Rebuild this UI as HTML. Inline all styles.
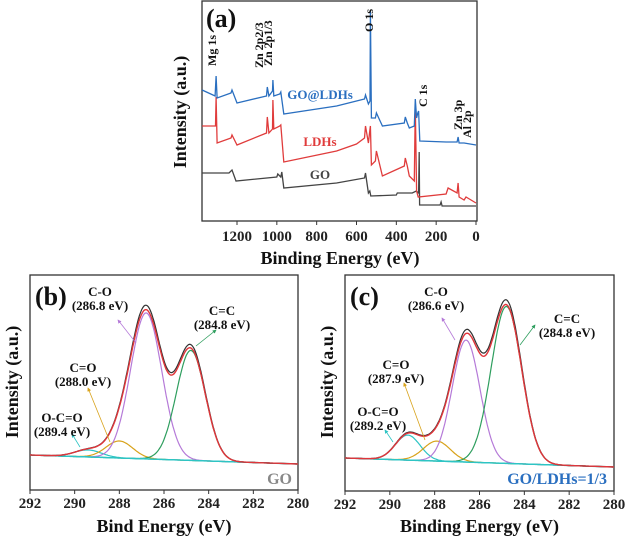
<!DOCTYPE html>
<html><head><meta charset="utf-8"><style>
body{margin:0;background:#fff}
svg{display:block;font-family:"Liberation Serif",serif;font-weight:bold}
</style></head><body>
<svg id="fig" width="625" height="540" viewBox="0 0 625 540">
<defs>
<marker id="ah" viewBox="0 0 6 6" refX="5" refY="3" markerWidth="5" markerHeight="5" orient="auto"><path d="M0,0L6,3L0,6z" fill="context-stroke"/></marker>
</defs>
<g id="pa"></g>
<g id="pb"></g>
<g id="pc"></g>
</svg>
<script>
// Survey spectra data (energy eV, relative intensity)
const goE=[1375,1240,1225,1205,1000,995,980,975,965,700,560,555,540,533,528,400,395,320,300,288,285,283,280,180,175,170,0];
const goI=[48,48,51,40,44,47,44,49,33,38,43,48,28,30,25,26,28,28,30,28,69,16,16,16,19,15,15];
const ldhE=[1375,1308,1305,1300,1230,1225,1200,1052,1048,1040,1022,1020,1015,985,980,965,700,600,560,555,540,532,530,525,505,500,470,360,355,345,335,310,305,298,290,150,140,95,90,85,60,50,0];
const ldhI=[95,95,124,78,83,86,76,88,104,88,92,121,92,95,96,59,70,77,83,95,78,92,95,56,60,70,45,55,63,55,45,40,115,30,24,27,33,28,38,24,21,24,18];
const blE=[1375,1310,1305,1300,1230,1225,1200,1052,1048,1040,1022,1020,1015,985,980,965,700,600,560,555,540,532,530,525,505,500,470,360,355,345,335,310,305,298,292,288,282,150,95,90,85,60,0];
const blI=[131,125,145,123,128,131,118,125,134,125,130,141,125,127,129,107,115,120,122,126,117,120,211,103,103,108,95,98,104,98,93,95,122,103,108,110,80,79,79,84,78,78,76];
const surveyTicks=[1200,1000,800,600,400,200,0];
// Peak fits (centers, heights, sigmas)
const bCenters=[289.4,288.0,286.8,284.8];
const bHeights=[7,17,146,110];
const bSig=[0.6,0.6,0.7,0.65];
const cCenters=[289.2,287.9,286.6,284.8];
const cHeights=[25,20,122,157];
const cSig=[0.55,0.6,0.62,0.68];
const hrTicks=[292,290,288,286,284,282,280];
const compColors=['#2ec4c4','#d8a21a','#b57ad8','#2e9e5e'];

const NS='http://www.w3.org/2000/svg';
function mk(parent,tag,attrs,txt){const e=document.createElementNS(NS,tag);for(const k in attrs)e.setAttribute(k,attrs[k]);if(txt!==undefined)e.textContent=txt;parent.appendChild(e);return e;}

/* ---------- panel a ---------- */
const A=document.getElementById('pa');
const ax={l:202,r:477,t:1,b:221};
const sxA=e=>476-(e/1200)*(476-237);
const syA=v=>ax.b-v;
let f=mk(A,'rect',{x:ax.l,y:ax.t,width:ax.r-ax.l,height:ax.b-ax.t,fill:'none',stroke:'#333','stroke-width':1.3});

function series(g,E,I,col,name,sx,sy){let d=E.map((e,i)=>(i?'L':'M')+sx(e).toFixed(1)+','+sy(I[i]).toFixed(1)).join('');
 const p=mk(g,'path',{d:d,fill:'none',stroke:col,'stroke-width':1.3});}
series(A,goE,goI,'#444','go-survey-line',sxA,syA);
series(A,ldhE,ldhI,'#e03c3c','ldhs-survey-line',sxA,syA);
series(A,blE,blI,'#2a6fc0','go-ldhs-survey-line',sxA,syA);
surveyTicks.forEach(t=>{const x=sxA(t);mk(A,'line',{x1:x,x2:x,y1:ax.b,y2:ax.b+4,stroke:'#333'});
 const tx=mk(A,'text',{x:x,y:241,'font-size':15,'text-anchor':'middle',fill:'#222'},t);});
let t=mk(A,'text',{x:340,y:264,'font-size':18,'text-anchor':'middle',fill:'#111'},'Binding Energy (eV)');
t=mk(A,'text',{x:0,y:0,'font-size':18,'text-anchor':'middle',fill:'#111',transform:'translate(186,112) rotate(-90)'},'Intensity (a.u.)');
t=mk(A,'text',{x:206,y:27,'font-size':26,fill:'#111'},'(a)');
[['Mg 1s',216,66],['Zn 2p2/3',263,68],['Zn 2p1/3',272,66],['O 1s',373,32],['C 1s',427,107],['Zn 3p',462,130],['Al 2p',471,138]].forEach(a=>{
 const e=mk(A,'text',{x:0,y:0,'font-size':12,fill:'#111',transform:`translate(${a[1]},${a[2]}) rotate(-90)`},a[0]);});
[['GO@LDHs',320,99,'#2a6fc0'],['LDHs',320,146,'#e03c3c'],['GO',320,179,'#444']].forEach(a=>{
 const e=mk(A,'text',{x:a[1],y:a[2],'font-size':13,fill:a[3],'text-anchor':'middle'},a[0]);});

/* ---------- HR panels ---------- */
function hrPanel(G,box,centers,heights,sig,base0,base1,labels,corner,cornerCol,title,panelLbl){
 const sx=e=>box.l+(292-e)/12*(box.r-box.l);
 const base=e=>base0+(292-e)/12*(base1-base0);
 const fr=mk(G,'rect',{x:box.l,y:box.t,width:box.r-box.l,height:box.b-box.t,fill:'none',stroke:'#333','stroke-width':1.3});
 
 const es=[];for(let e=292;e>=280.999;e-=0.05)es.push(e);es.push(280);
 const comp=(i,e)=>heights[i]*Math.exp(-((e-centers[i])**2)/(2*sig[i]*sig[i]));
 const path=fn=>es.map((e,k)=>(k?'L':'M')+sx(e).toFixed(1)+','+(base(e)-fn(e)).toFixed(1)).join('');
 const sum=e=>centers.reduce((s,c,i)=>s+comp(i,e),0);
 centers.forEach((c,i)=>{const p=mk(G,'path',{d:path(e=>comp(i,e)),fill:'none',stroke:compColors[i],'stroke-width':1.2});});
 let p=mk(G,'path',{d:path(e=>0),fill:'none',stroke:'#2ec4c4','stroke-width':1.5});
 p=mk(G,'path',{d:path(e=>sum(e)*1.03),fill:'none',stroke:'#333','stroke-width':1.2});
 p=mk(G,'path',{d:path(sum),fill:'none',stroke:'#e0353a','stroke-width':1.4});
 hrTicks.forEach(tk=>{const x=sx(tk);mk(G,'line',{x1:x,x2:x,y1:box.b,y2:box.b+4,stroke:'#333'});
  const tx=mk(G,'text',{x:x,y:box.b+18,'font-size':15,'text-anchor':'middle',fill:'#222'},tk);});
 let tt=mk(G,'text',{x:(box.l+box.r)/2,y:532,'font-size':18,'text-anchor':'middle',fill:'#111'},title);
 tt=mk(G,'text',{x:0,y:0,'font-size':18,'text-anchor':'middle',fill:'#111',transform:`translate(${box.l-12},382) rotate(-90)`},'Intensity (a.u.)');
 tt=mk(G,'text',{x:box.l+5,y:305,'font-size':26,fill:'#111'},panelLbl);
 labels.forEach((l,i)=>{
  const a=mk(G,'line',{x1:l[4],y1:l[5],x2:l[6],y2:l[7],stroke:compColors[i],'stroke-width':0.8,'marker-end':'url(#ah)'});
  let e=mk(G,'text',{x:l[2],y:l[3],'font-size':13,'text-anchor':'middle',fill:'#111'},l[0]);
  e=mk(G,'text',{x:l[2],y:l[3]+14,'font-size':13,'text-anchor':'middle',fill:'#111'},l[1]);});
 tt=mk(G,'text',{x:corner[0],y:corner[1],'font-size':16,'text-anchor':'end',fill:cornerCol},corner[2]);
}
hrPanel(document.getElementById('pb'),{l:30,r:298,t:275,b:490},bCenters,bHeights,bSig,455,464,
 [['O-C=O','(289.4 eV)',62,422,80,447,72,434],['C=O','(288.0 eV)',83,372,110,442,88,388],['C-O','(286.8 eV)',100,296,136,343,118,320],['C=C','(284.8 eV)',222,315,196,346,216,330]],
 [292,484,'GO'],'#888','Bind Energy (eV)','(b)');
hrPanel(document.getElementById('pc'),{l:345,r:614,t:275,b:491},cCenters,cHeights,cSig,458,467,
 [['O-C=O','(289.2 eV)',378,416,393,442,385,430],['C=O','(287.9 eV)',396,369,425,440,404,383],['C-O','(286.6 eV)',436,296,455,340,442,318],['C=C','(284.8 eV)',567,323,520,345,535,325]],
 [607,484,'GO/LDHs=1/3'],'#2a6fc0','Binding Energy (eV)','(c)');
</script>
</body></html>
